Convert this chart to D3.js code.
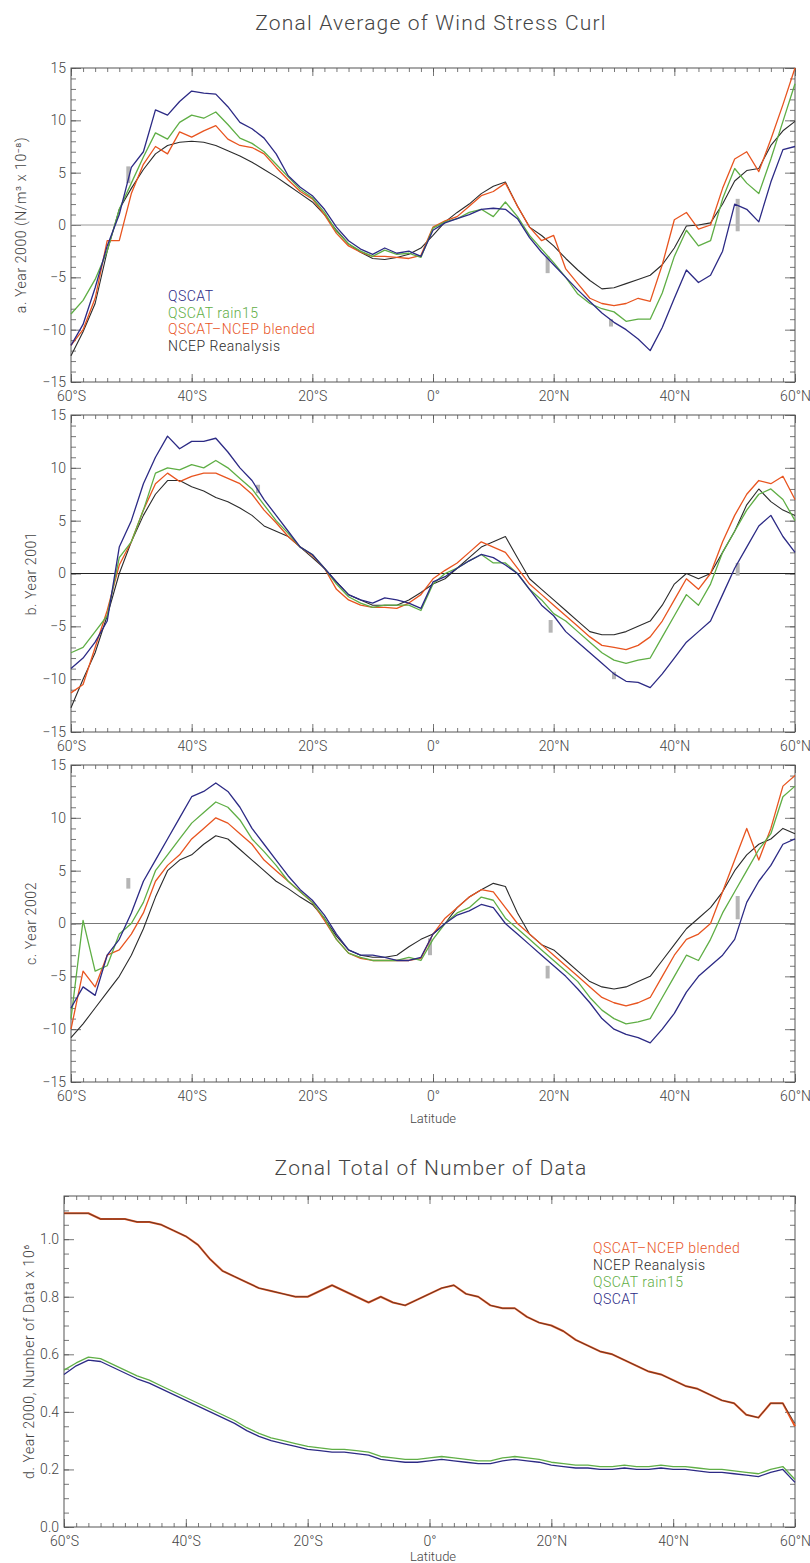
<!DOCTYPE html>
<html>
<head>
<meta charset="utf-8">
<script src="https://cdn.jsdelivr.net/npm/d3@7"></script>
<style>
  body { margin: 0; background: #fff; }
  svg { display: block; }
  text { font-family: Roboto, "Open Sans", sans-serif; font-weight: 300; fill: #444; }
</style>
</head>
<body>
<div id="chart"></div>
<script>
// latitude grid (every 2 degrees, 60S..60N)
var lat = [-60,-58,-56,-54,-52,-50,-48,-46,-44,-42,-40,-38,-36,-34,-32,-30,-28,-26,-24,-22,-20,
           -18,-16,-14,-12,-10,-8,-6,-4,-2,0,2,4,6,8,10,12,14,16,18,20,
           22,24,26,28,30,32,34,36,38,40,42,44,46,48,50,52,54,56,58,60];

var latTicks = [-60, -40, -20, 0, 20, 40, 60];
var curlTicks = [-15, -10, -5, 0, 5, 10, 15];
var countTicks = [0, 0.2, 0.4, 0.6, 0.8, 1.0];

var seriesNames = ["QSCAT", "QSCAT rain15", "QSCAT\u2013NCEP blended", "NCEP Reanalysis"];

// a. Year 2000
var aQscat = [-11.5,-9.5,-6,-2,1,5.5,7,11,10.5,11.8,12.8,12.6,12.5,11.3,9.8,9.2,8.3,6.8,4.7,3.6,2.8,
              1.5,-0.2,-1.5,-2.3,-2.8,-2.2,-2.7,-2.5,-3.0,-0.5,0.2,0.6,1.0,1.5,1.6,1.5,0.6,-1.2,-2.6,-3.8,
              -5.0,-6.2,-7.3,-8.4,-9.3,-10.0,-10.9,-12.0,-9.8,-7,-4.3,-5.5,-4.8,-2.5,2.0,1.5,0.3,4.1,7.2,7.5];
var aRain = [-8.5,-7.2,-5.2,-2.5,1.5,4.0,6.5,8.8,8.2,9.8,10.5,10.2,10.8,9.6,8.3,7.8,7.0,5.8,4.6,3.4,2.6,
             1.2,-0.6,-1.8,-2.5,-3.0,-2.4,-2.8,-2.7,-3.1,-0.3,0.3,0.6,1.2,1.5,0.8,2.2,0.8,-1.0,-2.3,-3.6,
             -5.0,-6.6,-7.5,-8.0,-8.3,-9.2,-9.0,-9.0,-6.5,-3.0,-0.5,-2.0,-1.5,2.5,5.4,4.0,3.0,6.3,9.9,13.5];
var aBlend = [-11.5,-10,-7,-1.5,-1.5,3.0,5.8,7.5,6.8,8.9,8.4,9.0,9.5,8.2,7.6,7.4,6.8,5.5,4.3,3.2,2.5,
              1.0,-0.8,-2.0,-2.6,-3.0,-3.0,-3.1,-3.2,-2.9,-0.2,0.4,0.8,1.8,2.8,3.2,4.0,1.8,-0.2,-1.5,-1.0,
              -4.2,-5.6,-7.0,-7.5,-7.7,-7.5,-7.0,-7.3,-3.8,0.5,1.2,-0.4,0.0,3.5,6.3,7.0,5.1,8.2,11.5,15.0];
var aNcep = [-12.5,-10.2,-7.5,-2.5,1.5,3.5,5.3,6.8,7.6,7.9,8.0,7.9,7.6,7.1,6.6,6.0,5.3,4.6,3.8,3.0,2.2,
             1.0,-0.5,-1.8,-2.6,-3.2,-3.3,-3.1,-2.8,-2.2,-1.0,0.3,1.2,2.0,3.0,3.7,4.1,1.8,-0.2,-1.0,-2.0,
             -3.2,-4.3,-5.3,-6.1,-6.0,-5.6,-5.2,-4.8,-3.8,-2.2,-0.1,0.0,0.2,2.0,4.2,5.2,5.4,7.6,9.0,9.9];

// b. Year 2001
var bQscat = [-9,-8,-6.5,-4.5,2.5,5,8.5,11,13,11.8,12.5,12.5,12.8,11.5,10,8.8,7,5.5,4,2.5,1.8,
              0.5,-0.8,-2,-2.5,-2.8,-2.3,-2.5,-2.8,-3.3,-0.8,-0.3,0.5,1.2,1.8,1.5,0.8,0,-1.5,-3,-4,
              -5.5,-6.5,-7.5,-8.5,-9.5,-10.2,-10.3,-10.8,-9.5,-8,-6.5,-5.5,-4.5,-2,0.5,2.5,4.5,5.5,3.5,2];
var bRain = [-7.5,-7,-5.5,-4,1.5,3,6,9.5,10,9.8,10.3,10,10.7,10,9,8,6.5,5,3.8,2.5,1.8,
             0.5,-1,-2.2,-2.8,-3.2,-3,-3,-3,-3.5,-1,0,0.5,1.2,1.8,1,1,0,-1.5,-2.5,-3.8,
             -4.5,-5.5,-6.5,-7.5,-8.2,-8.5,-8.2,-8,-6,-4,-2,-3,-1,2,4,6,7.5,8,7,5];
var bBlend = [-11.3,-10.5,-7,-3.5,0.8,3,6,8.5,9.5,8.7,9.2,9.5,9.5,9,8.5,7.5,6,4.8,3.5,2.5,1.7,
              0.5,-1.5,-2.5,-3,-3.2,-3.2,-3.3,-2.8,-2,-0.5,0.3,1,2,3,2.5,2,0.5,-1,-2,-3,
              -4,-5,-6,-6.8,-7,-7.2,-6.8,-6,-4.5,-2.5,-0.5,-1.5,0,3,5.5,7.5,8.8,8.5,9.2,7];
var bNcep = [-12.7,-10,-7.5,-4,0,3,5.5,7.5,8.8,8.8,8.2,7.8,7.2,6.8,6.2,5.5,4.5,4,3.5,2.5,1.5,
             0.5,-0.8,-2,-2.5,-3,-3,-3,-2.5,-1.8,-1,-0.5,0.5,1.5,2.5,3,3.5,1.5,-0.5,-1.5,-2.5,
             -3.5,-4.5,-5.5,-5.8,-5.8,-5.5,-5,-4.5,-3,-1,0,-0.5,0,2,4,6.5,8,6.8,6,5.5];

// c. Year 2002
var cQscat = [-8,-6,-6.8,-3,-1.5,1,4,6,8,10,12,12.5,13.3,12.5,11,9,7.5,6,4.5,3.2,2.2,
              0.8,-1,-2.5,-3,-3,-3.2,-3.5,-3.5,-3.2,-1,0,0.8,1.2,1.8,1.5,0,-1,-2,-3,-4,
              -5,-6.2,-7.5,-9,-10,-10.5,-10.8,-11.3,-10,-8.5,-6.5,-5,-4,-3,-1.5,2,4,5.5,7.5,8];
var cRain = [-9,0.3,-4.5,-4,-1,0,2,5,6.5,8,9.5,10.5,11.5,11,9.8,8,6.8,5.5,4,3,2,
             0.5,-1.5,-2.8,-3.2,-3.5,-3.5,-3.5,-3.2,-3.5,-1.5,0,1,1.5,2.5,2.2,0.5,-0.5,-1.5,-2.5,-3.5,
             -4.5,-5.5,-7,-8.2,-9,-9.5,-9.3,-9,-7,-5,-3,-3.5,-1.5,1,3,5,7,8.5,12,13];
var cBlend = [-10,-4.5,-6,-3,-2.5,-1,1,4,5.5,6.5,8,9,10,9.5,8.5,7.5,6,5,4,3,2,
              0.3,-1.5,-2.8,-3.3,-3.5,-3.5,-3.5,-3.5,-3.3,-1,0.5,1.5,2.5,3.2,3,1.5,0,-1,-2,-3,
              -4,-5,-6,-7,-7.5,-7.8,-7.5,-7,-5,-3,-1.5,-1,0,3,6,9,6,9,13,14];
var cNcep = [-10.8,-9.5,-8,-6.5,-5,-3,-0.5,2.5,5,6,6.5,7.5,8.3,8,7,6,5,4,3.3,2.5,1.8,
             0.5,-1.2,-2.5,-3,-3.2,-3.2,-3,-2.2,-1.5,-1,0,1.5,2.5,3.2,3.8,3.5,1,-1,-2,-2.5,
             -3.5,-4.5,-5.5,-6,-6.2,-6,-5.5,-5,-3.5,-2,-0.5,0.5,1.5,3,5,6.5,7.5,8,9,8.5];

// d. Year 2000, number of data (x 10^6)
var dBlend = [1.09,1.09,1.09,1.07,1.07,1.07,1.06,1.06,1.05,1.03,1.01,0.98,0.93,0.89,0.87,0.85,0.83,0.82,0.81,0.80,0.80,
              0.82,0.84,0.82,0.80,0.78,0.80,0.78,0.77,0.79,0.81,0.83,0.84,0.81,0.80,0.77,0.76,0.76,0.73,0.71,0.70,
              0.68,0.65,0.63,0.61,0.60,0.58,0.56,0.54,0.53,0.51,0.49,0.48,0.46,0.44,0.43,0.39,0.38,0.43,0.43,0.35];
var dNcep = [1.09,1.09,1.09,1.07,1.07,1.07,1.06,1.06,1.05,1.03,1.01,0.98,0.93,0.89,0.87,0.85,0.83,0.82,0.81,0.80,0.80,
             0.82,0.84,0.82,0.80,0.78,0.80,0.78,0.77,0.79,0.81,0.83,0.84,0.81,0.80,0.77,0.76,0.76,0.73,0.71,0.70,
             0.68,0.65,0.63,0.61,0.60,0.58,0.56,0.54,0.53,0.51,0.49,0.48,0.46,0.44,0.43,0.39,0.38,0.43,0.43,0.36];
var dRain = [0.545,0.57,0.59,0.585,0.565,0.545,0.525,0.51,0.49,0.47,0.45,0.43,0.41,0.39,0.37,0.345,0.325,0.31,0.30,0.29,0.28,
             0.275,0.27,0.27,0.265,0.26,0.245,0.24,0.235,0.235,0.24,0.245,0.24,0.235,0.23,0.23,0.24,0.245,0.24,0.235,0.225,
             0.22,0.215,0.215,0.21,0.21,0.215,0.21,0.21,0.215,0.21,0.21,0.205,0.20,0.20,0.195,0.19,0.185,0.20,0.21,0.165];
var dQscat = [0.53,0.56,0.58,0.575,0.555,0.535,0.515,0.50,0.48,0.46,0.44,0.42,0.40,0.38,0.36,0.335,0.315,0.30,0.29,0.28,0.27,
              0.265,0.26,0.26,0.255,0.25,0.235,0.23,0.225,0.225,0.23,0.235,0.23,0.225,0.22,0.22,0.23,0.235,0.23,0.225,0.215,
              0.21,0.205,0.205,0.20,0.20,0.205,0.20,0.20,0.205,0.20,0.20,0.195,0.19,0.19,0.185,0.18,0.175,0.19,0.20,0.155];

// small gray marks in the curl panels: [latitude, low, high]
var aMarks = [[-50.5, 4.0, 5.6], [19, -4.6, -3.0], [29.5, -9.7, -9.0], [50.5, -0.6, 2.5]];
var bMarks = [[-29, 7.6, 8.4], [19.5, -5.6, -4.4], [30, -10.0, -9.3], [50.5, -0.2, 1.0]];
var cMarks = [[-50.5, 3.3, 4.3], [-0.5, -3.0, -1.4], [19, -5.2, -4.0], [50.5, 0.4, 2.6]];

var colors = { qscat: "#2c2a85", rain: "#5fae45", blend: "#e8541f", ncep: "#2b2b2b" };

var W = 810, H = 1563;
var svg = d3.select("#chart").append("svg").attr("width", W).attr("height", H);

function latFmt(v) {
    if (v < 0) return (-v) + "\u00b0S";
    if (v > 0) return v + "\u00b0N";
    return "0\u00b0";
}

// draws a framed panel with IDL-like inward ticks and returns the scales
function panel(box, yDomain, yMajor, yMinorStep, yFmt) {
    var x = d3.scaleLinear().domain([-60, 60]).range([box.left, box.right]);
    var y = d3.scaleLinear().domain(yDomain).range([box.bottom, box.top]);
    var g = svg.append("g");

    var xMinor = d3.range(-60, 60.1, 2);
    var yMinor = d3.range(yDomain[0], yDomain[1] + 1e-9, yMinorStep);

    // minor ticks
    g.append("g").attr("transform", "translate(0," + box.bottom + ")")
        .call(d3.axisBottom(x).tickValues(xMinor).tickSize(-4).tickFormat(""));
    g.append("g").attr("transform", "translate(0," + box.top + ")")
        .call(d3.axisTop(x).tickValues(xMinor).tickSize(-4).tickFormat(""));
    g.append("g").attr("transform", "translate(" + box.left + ",0)")
        .call(d3.axisLeft(y).tickValues(yMinor).tickSize(-5).tickFormat(""));
    g.append("g").attr("transform", "translate(" + box.right + ",0)")
        .call(d3.axisRight(y).tickValues(yMinor).tickSize(-5).tickFormat(""));

    // major ticks + labels
    g.append("g").attr("class", "xlab").attr("transform", "translate(0," + box.bottom + ")")
        .call(d3.axisBottom(x).tickValues(latTicks).tickSize(-8).tickPadding(9).tickFormat(latFmt));
    g.append("g").attr("transform", "translate(0," + box.top + ")")
        .call(d3.axisTop(x).tickValues(latTicks).tickSize(-8).tickFormat(""));
    g.append("g").attr("class", "ylab").attr("transform", "translate(" + box.left + ",0)")
        .call(d3.axisLeft(y).tickValues(yMajor).tickSize(-10).tickPadding(5).tickFormat(yFmt));
    g.append("g").attr("transform", "translate(" + box.right + ",0)")
        .call(d3.axisRight(y).tickValues(yMajor).tickSize(-10).tickFormat(""));

    g.selectAll(".domain").remove();
    g.selectAll(".tick line").attr("stroke", "#555").attr("stroke-width", 0.8);
    g.selectAll(".xlab text").attr("font-size", 14).attr("fill", "#444")
        .attr("font-family", "Roboto, sans-serif");
    g.selectAll(".ylab text").attr("font-size", 14).attr("fill", "#444")
        .attr("font-family", "Roboto, sans-serif");

    g.append("rect")
        .attr("x", box.left).attr("y", box.top)
        .attr("width", box.right - box.left).attr("height", box.bottom - box.top)
        .attr("fill", "none").attr("stroke", "#555").attr("stroke-width", 1);

    return { x: x, y: y, g: g };
}

function drawLine(p, values, color, width) {
    var line = d3.line()
        .x(function(d, i) { return p.x(lat[i]); })
        .y(function(d) { return p.y(d); });
    p.g.append("path")
        .datum(values)
        .attr("d", line)
        .attr("fill", "none")
        .attr("stroke", color)
        .attr("stroke-width", width)
        .attr("stroke-linejoin", "round");
}

function drawMarks(p, marks) {
    p.g.selectAll(null).data(marks).enter().append("rect")
        .attr("x", function(d) { return p.x(d[0]) - 2; })
        .attr("y", function(d) { return p.y(d[2]); })
        .attr("width", 4)
        .attr("height", function(d) { return p.y(d[1]) - p.y(d[2]); })
        .attr("fill", "#b5b5b5");
}

function yTitle(text, cx, cy) {
    svg.append("text")
        .attr("transform", "translate(" + cx + "," + cy + ") rotate(-90)")
        .attr("text-anchor", "middle")
        .attr("dominant-baseline", "middle")
        .attr("font-size", 14)
        .attr("letter-spacing", 0.6)
        .text(text);
}

// titles
svg.append("text").attr("x", 431).attr("y", 30).attr("text-anchor", "middle")
    .attr("font-size", 21).attr("letter-spacing", 1.2)
    .text("Zonal Average of Wind Stress Curl");
svg.append("text").attr("x", 431).attr("y", 1175).attr("text-anchor", "middle")
    .attr("font-size", 21).attr("letter-spacing", 1.2)
    .text("Zonal Total of Number of Data");

var curlPanels = [
    { box: { left: 71, right: 795, top: 68, bottom: 382 }, q: aQscat, r: aRain, b: aBlend, n: aNcep, marks: aMarks, zero: "#9a9a9a", title: "a. Year 2000 (N/m\u00b3 x 10\u207b\u2078)", tx: 22 },
    { box: { left: 71, right: 795, top: 415, bottom: 732 }, q: bQscat, r: bRain, b: bBlend, n: bNcep, marks: bMarks, zero: "#222", title: "b. Year 2001", tx: 32 },
    { box: { left: 71, right: 795, top: 765, bottom: 1082 }, q: cQscat, r: cRain, b: cBlend, n: cNcep, marks: cMarks, zero: "#777", title: "c. Year 2002", tx: 32 }
];

curlPanels.forEach(function(cp) {
    var p = panel(cp.box, [-15, 15], curlTicks, 1, d3.format("d"));
    p.g.append("line")
        .attr("x1", cp.box.left).attr("x2", cp.box.right)
        .attr("y1", p.y(0)).attr("y2", p.y(0))
        .attr("stroke", cp.zero).attr("stroke-width", 1);
    drawMarks(p, cp.marks);
    drawLine(p, cp.n, colors.ncep, 1.1);
    drawLine(p, cp.b, colors.blend, 1.3);
    drawLine(p, cp.r, colors.rain, 1.3);
    drawLine(p, cp.q, colors.qscat, 1.3);
    yTitle(cp.title, cp.tx, (cp.box.top + cp.box.bottom) / 2);
});

// legend, panel a
var legA = [
    { name: seriesNames[0], color: colors.qscat },
    { name: seriesNames[1], color: colors.rain },
    { name: seriesNames[2], color: colors.blend },
    { name: seriesNames[3], color: colors.ncep }
];
svg.append("g").selectAll("text").data(legA).enter().append("text")
    .attr("x", 168).attr("y", function(d, i) { return 301 + i * 16.5; })
    .attr("font-size", 14).attr("letter-spacing", 0.5)
    .style("fill", function(d) { return d.color; })
    .text(function(d) { return d.name; });

svg.append("text").attr("x", 433).attr("y", 1123).attr("text-anchor", "middle")
    .attr("font-size", 13).text("Latitude");

// panel d
var dBox = { left: 64, right: 795, top: 1196, bottom: 1527 };
var pd = panel(dBox, [0, 1.15], countTicks, 0.05, d3.format(".1f"));
drawLine(pd, dBlend, colors.blend, 2);
drawLine(pd, dNcep, colors.ncep, 0.7);
drawLine(pd, dRain, colors.rain, 1.3);
drawLine(pd, dQscat, colors.qscat, 1.3);
yTitle("d. Year 2000, Number of Data x 10\u2076", 30, (dBox.top + dBox.bottom) / 2);

var legD = [
    { name: seriesNames[2], color: colors.blend },
    { name: seriesNames[3], color: colors.ncep },
    { name: seriesNames[1], color: colors.rain },
    { name: seriesNames[0], color: colors.qscat }
];
svg.append("g").selectAll("text").data(legD).enter().append("text")
    .attr("x", 593).attr("y", function(d, i) { return 1253 + i * 17; })
    .attr("font-size", 14).attr("letter-spacing", 0.5)
    .style("fill", function(d) { return d.color; })
    .text(function(d) { return d.name; });

svg.append("text").attr("x", 433).attr("y", 1561).attr("text-anchor", "middle")
    .attr("font-size", 13).text("Latitude");
</script>
</body>
</html>
